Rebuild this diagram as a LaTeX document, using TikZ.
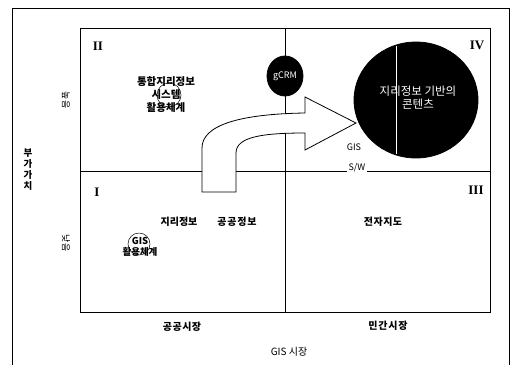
\documentclass[tikz,border=0pt]{standalone}
\usepackage{fontspec}
\setmainfont{Liberation Serif}
\newfontfamily\kr{Noto Sans CJK KR}
\usetikzlibrary{shapes.geometric}
\begin{document}
\begin{tikzpicture}[x=1pt,y=-1pt,line width=0.8pt,
  lbl/.style={font=\kr\bfseries\fontsize{9.5}{11}\selectfont,inner sep=0pt,align=center},
  rom/.style={font=\bfseries\fontsize{13}{13}\selectfont,inner sep=0pt},
  blob/.style={ellipse,fill=black,draw=black,inner sep=0pt},
  thin/.style={line width=0.5pt}]
\fill[white] (0,0) rectangle (512,365);
\useasboundingbox (0,0) rectangle (512,365);
% outer frame
\coordinate (fbl) at (12,365);
\coordinate (ftr) at (509,8);
\coordinate (fbr) at (509,365);
\draw (fbl) |- (ftr) -- (fbr);
% inner box and dividers
\coordinate (ibl) at (80,312);
\coordinate (itr) at (490,28);
\draw (ibl) rectangle (itr);
\coordinate (vt) at (285,28);
\coordinate (vb) at (285,312);
\coordinate (hl) at (80,171);
\coordinate (hr) at (490,171);
\draw (vt) -- (vb);
\draw (hl) -- (hr);
% arrow
\draw[fill=white] (202,192) -- (202,148) .. controls (202,125) and (240,114) .. (305,113)
  -- (305,97) -- (356,123) -- (305,150) -- (305,133)
  .. controls (262,133) and (236,137) .. (236,153) -- (236,192) -- cycle;
% S/W and GIS labels
\node[lbl,fill=white,inner xsep=2pt,inner ysep=1pt,font=\kr\fontsize{9}{10}\selectfont] (sw) at (357,168) {S/W};
\node[lbl,font=\kr\fontsize{9}{10}\selectfont] (gis) at (354,147) {GIS};
% gCRM
\node[blob,minimum width=36pt,minimum height=40pt,text=white,font=\kr\fontsize{9}{10}\selectfont] (gcrm) at (285,76) {gCRM};
% big circle
\node[blob,minimum width=124pt,minimum height=116pt] (big) at (416,100) {};
\draw[white,line width=0.6pt] (396,46) -- (396,154);
\node[lbl,text=white,font=\kr\fontsize{11.5}{13}\selectfont] (bigtxt) at (418,98) {지리정보 기반의\\콘텐츠};
% roman numerals
\node[rom] (q2) at (98,46) {II};
\node[rom] (q4) at (477,45) {IV};
\node[rom] (q1) at (97,192) {I};
\node[rom] (q3) at (476,190) {III};
% quadrant II text
\draw[thin] (169,95) circle (12);
\node[lbl,font=\kr\bfseries\fontsize{10.5}{13}\selectfont] (q2txt) at (166,95) {통합지리정보\\시스템\\활용체계};
% quadrant I text
\node[lbl,font=\kr\bfseries\fontsize{10}{12}\selectfont] (q1a) at (179,222) {지리정보};
\node[lbl,font=\kr\bfseries\fontsize{10}{12}\selectfont\addfontfeature{LetterSpace=8}] (q1b) at (237,222) {공공정보};
\draw[thin] (139,244) circle (11);
\node[lbl,font=\kr\bfseries\fontsize{9.5}{11}\selectfont] (gisuse) at (140,247) {GIS\\활용체계};
% quadrant III
\node[lbl,font=\kr\bfseries\fontsize{10}{12}\selectfont\addfontfeature{LetterSpace=5}] (q3txt) at (383,222) {전자지도};
% axes labels
\node[lbl,font=\kr\bfseries\fontsize{9.5}{11}\selectfont] (vaxis) at (28,170) {부\\가\\가\\치};
\node[lbl,rotate=-90,font=\kr\fontsize{9}{10}\selectfont] (high) at (66,100) {높음};
\node[lbl,rotate=-90,font=\kr\fontsize{9}{10}\selectfont] (low) at (66,243) {낮음};
\node[lbl,font=\kr\bfseries\fontsize{10}{12}\selectfont\addfontfeature{LetterSpace=5}] (pub) at (182,327) {공공시장};
\node[lbl,font=\kr\bfseries\fontsize{10}{12}\selectfont\addfontfeature{LetterSpace=8}] (priv) at (388,326) {민간시장};
\node[lbl,font=\kr\fontsize{10}{12}\selectfont] (haxis) at (289,352) {GIS 시장};
\end{tikzpicture}
\end{document}
